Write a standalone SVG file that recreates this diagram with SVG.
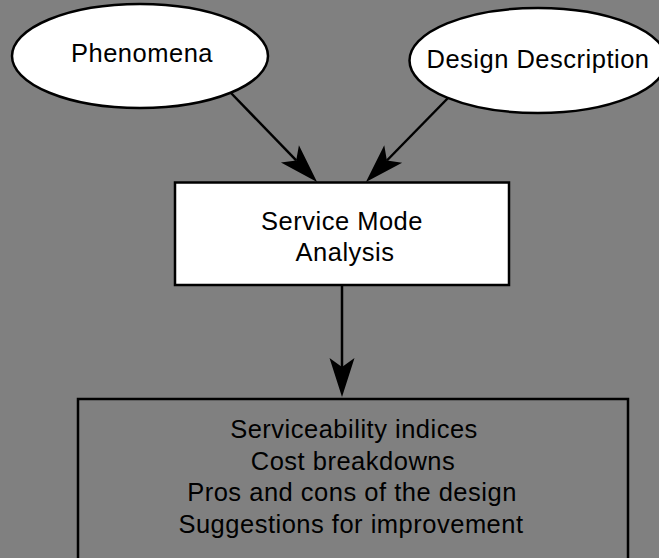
<svg xmlns="http://www.w3.org/2000/svg" width="659" height="558" viewBox="0 0 659 558">
  <style>
    .shape { stroke: #000; stroke-width: 2.5; }
    .label { font-family: "Liberation Sans", Arial, Helvetica, sans-serif; font-size: 25.5px; letter-spacing: 0.5px; fill: #000; text-anchor: middle; }
    .edge { fill: none; stroke: #000; stroke-width: 2.5; }
  </style>
  <defs>
    <!-- arrowhead drawn from its notch (origin) forward to the tip -->
    <marker id="arrow" markerUnits="userSpaceOnUse" markerWidth="44" markerHeight="30" viewBox="-10 -14 44 28" refX="0" refY="0" orient="auto" overflow="visible">
      <path d="M30,0 L-9,-12.5 L0,0 L-9,12.5 Z" fill="#000"/>
    </marker>
  </defs>

  <rect x="0" y="0" width="659" height="558" fill="#808080"/>

  <g id="connectors">
    <path class="edge" d="M231,93 L296.2,160.4" marker-end="url(#arrow)"/>
    <path class="edge" d="M448,98 L386.9,160.5" marker-end="url(#arrow)"/>
    <path class="edge" d="M342,285 L342,367" marker-end="url(#arrow)"/>
  </g>

  <g id="phenomena">
    <ellipse class="shape" cx="140" cy="56" rx="128" ry="52" fill="#fff"/>
    <text class="label" x="142" y="62">Phenomena</text>
  </g>

  <g id="design-description">
    <ellipse class="shape" cx="538" cy="60.5" rx="128.5" ry="52.5" fill="#fff"/>
    <text class="label" x="538" y="68">Design Description</text>
  </g>

  <g id="service-mode-analysis">
    <rect class="shape" x="175" y="182.5" width="334" height="102.5" fill="#fff"/>
    <text class="label" x="342" y="230">Service Mode</text>
    <text class="label" x="345" y="260.5">Analysis</text>
  </g>

  <g id="outputs">
    <rect class="shape" x="78" y="399" width="550" height="175" fill="none"/>
    <text class="label" x="354" y="438">Serviceability indices</text>
    <text class="label" x="353" y="469.5">Cost breakdowns</text>
    <text class="label" x="352" y="501">Pros and cons of the design</text>
    <text class="label" x="351" y="533">Suggestions for improvement</text>
  </g>
</svg>
